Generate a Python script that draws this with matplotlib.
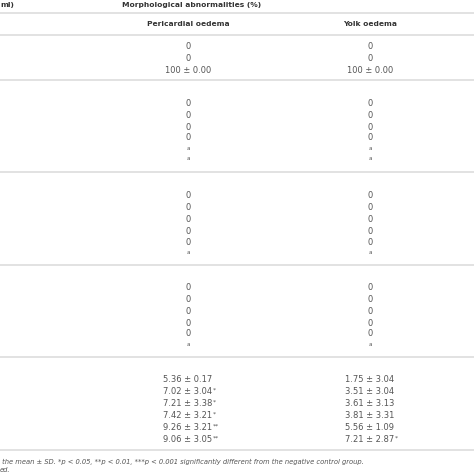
import matplotlib
matplotlib.use("Agg")
import matplotlib.pyplot as plt

pericardial = [["0", "0", "100 ± 0.00"],
               ["0", "0", "0", "0", "a", "a"],
               ["0", "0", "0", "0", "0", "a"],
               ["0", "0", "0", "0", "0", "a"],
               ["5.36 ± 0.17", "7.02 ± 3.04*", "7.21 ± 3.38*", "7.42 ± 3.21*", "9.26 ± 3.21**", "9.06 ± 3.05**"]]
yolk = [["0", "0", "100 ± 0.00"],
        ["0", "0", "0", "0", "a", "a"],
        ["0", "0", "0", "0", "0", "a"],
        ["0", "0", "0", "0", "0", "a"],
        ["1.75 ± 3.04", "3.51 ± 3.04", "3.61 ± 3.13", "3.81 ± 3.31", "5.56 ± 1.09", "7.21 ± 2.87*"]]
group_y = [[46, 58, 70], [103, 115, 127, 138, 148, 159], [195, 207, 219, 231, 242, 252],
           [287, 299, 311, 323, 334, 344], [380, 392, 404, 416, 428, 440]]
hlines = [13, 35, 80, 172, 265, 357, 450]

fig = plt.figure(figsize=(4.74, 4.74), dpi=100)
ax = fig.add_axes([0, 0, 1, 1])
ax.set_xlim(0, 474); ax.set_ylim(474, 0); ax.axis("off")

for y in hlines:
    ax.plot([0, 474], [y, y], color="#dddddd", lw=1.2)

hc = "#333333"; vc = "#555555"
ax.text(0, 5, "ml)", fontsize=5.4, fontweight="bold", color=hc, va="center")
ax.text(122, 5, "Morphological abnormalities (%)", fontsize=5.4, fontweight="bold", color=hc, va="center")
ax.text(188, 24, "Pericardial oedema", fontsize=5.4, fontweight="bold", color=hc, va="center", ha="center")
ax.text(370, 24, "Yolk oedema", fontsize=5.4, fontweight="bold", color=hc, va="center", ha="center")

def draw(x, val, y):
    if val == "a":
        ax.text(x, y, "a", fontsize=4, color=vc, ha="center", va="center")
        return
    base = val.rstrip("*")
    stars = val[len(base):]
    t = ax.text(x, y, base, fontsize=6.0, color=vc, ha="center", va="center")
    if stars:
        fig.canvas.draw()
        bb = t.get_window_extent()
        ax.annotate(stars, xy=(bb.x1, bb.y1), xycoords="figure pixels", fontsize=4.5,
                    color=vc, ha="left", va="top")

for grp_p, grp_y_, grp_yk in zip(pericardial, group_y, yolk):
    for vp, y, vy in zip(grp_p, grp_y_, grp_yk):
        draw(188, vp, y)
        draw(370, vy, y)

ax.text(0, 462, " the mean ± SD. *p < 0.05, **p < 0.01, ***p < 0.001 significantly different from the negative control group.",
        fontsize=4.9, style="italic", color=vc, va="center")
ax.text(0, 470, "ed.", fontsize=4.9, style="italic", color=vc, va="center")

fig.savefig("out.png", dpi=100)
